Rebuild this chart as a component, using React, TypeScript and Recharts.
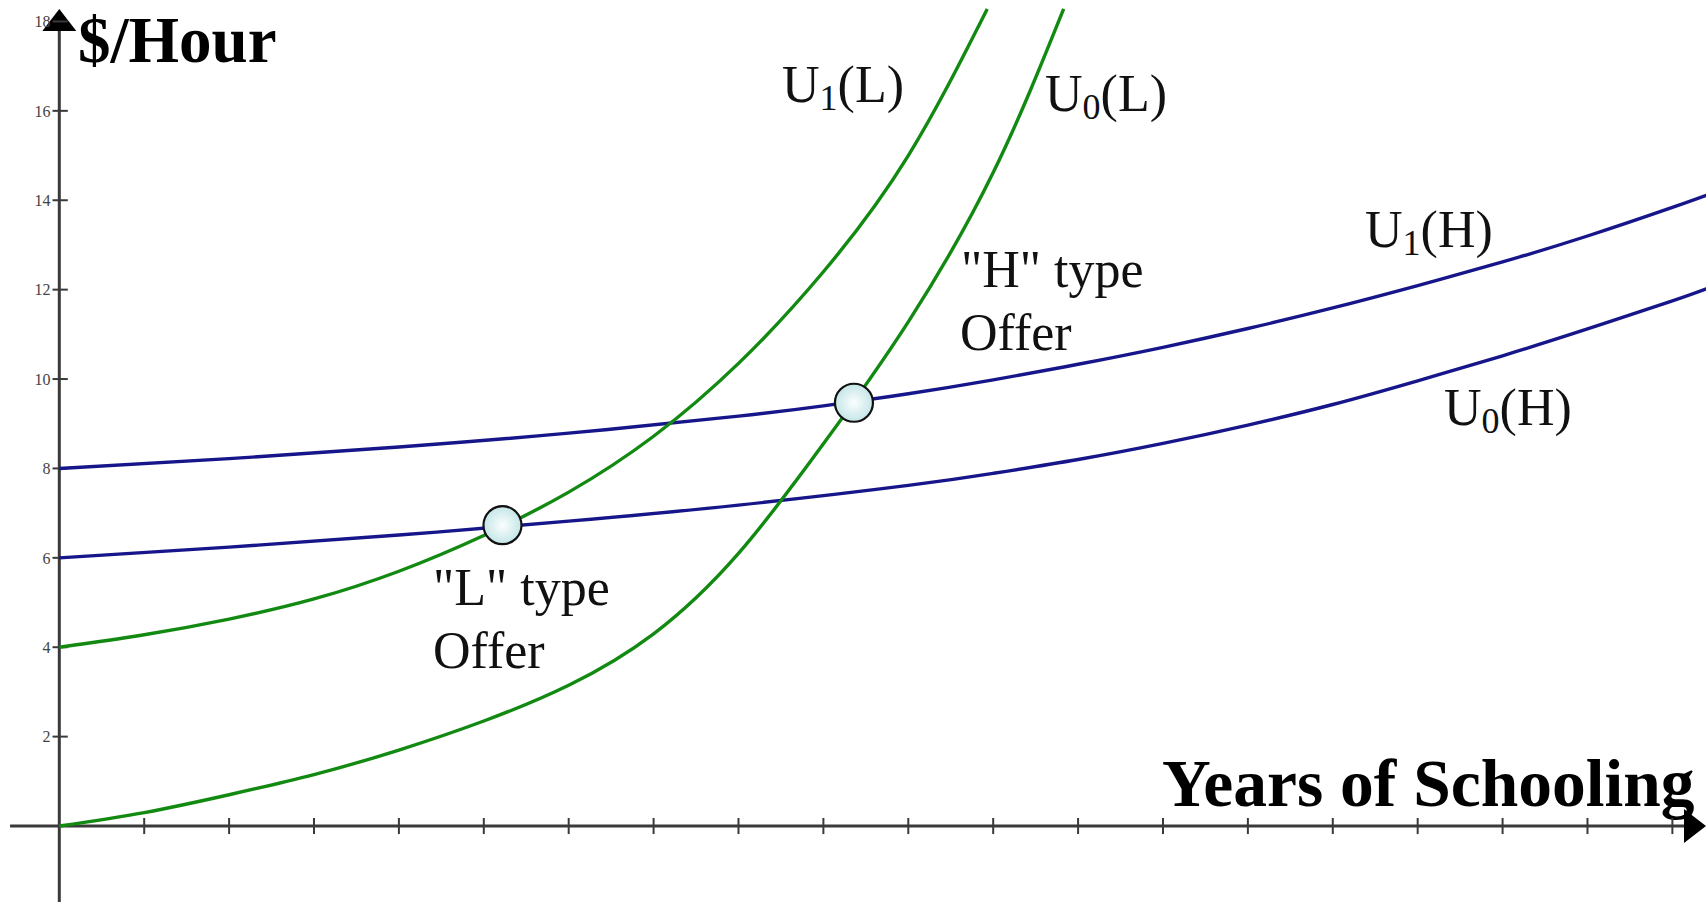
import React from "react";
import {
  ComposedChart,
  Line,
  Scatter,
  XAxis,
  YAxis,
  ReferenceLine,
} from "recharts";

// readings: [years of schooling, $/hour]
const U1_H: [number, number][] = [
  [0, 8], [2, 8.22], [4, 8.48], [6, 8.79], [8, 9.17], [9, 9.4], [10, 9.67],
  [11, 9.98], [12, 10.33], [13, 10.71], [14, 11.13], [15, 11.59], [16, 12.09],
  [17, 12.62], [18, 13.2], [19, 13.84], [19.4, 14.11],
];
const U0_H: [number, number][] = [
  [0, 6], [2, 6.24], [4, 6.51], [6, 6.82], [8, 7.18], [10, 7.62], [11, 7.89],
  [12, 8.2], [13, 8.56], [14, 8.97], [15, 9.43], [16, 9.96], [17, 10.52],
  [18, 11.12], [19, 11.75], [19.4, 12.02],
];
const U1_L: [number, number][] = [
  [0, 4], [1, 4.28], [2, 4.63], [3, 5.08], [4, 5.7], [5, 6.5], [6, 7.47],
  [7, 8.72], [8, 10.35], [9, 12.4], [10, 15.0], [10.93, 18.28],
];
const U0_L: [number, number][] = [
  [0, 0], [1, 0.3], [2, 0.7], [3, 1.15], [4, 1.7], [5, 2.35], [6, 3.15],
  [7, 4.3], [8, 6.1], [9, 8.55], [10, 11.28], [11, 14.62], [11.83, 18.28],
];
// the two offers ("L" type, "H" type)
const OFFERS: [number, number][] = [
  [5.22, 6.73],
  [9.36, 9.47],
];

const X_TICKS = [1, 2, 3, 4, 5, 6, 7, 8, 9, 10, 11, 12, 13, 14, 15, 16, 17, 18, 19];
const Y_TICKS = [2, 4, 6, 8, 10, 12, 14, 16, 18];

const W = 1706;
const H = 902;
const X_DOMAIN: [number, number] = [-0.6985, 19.396];
const Y_DOMAIN: [number, number] = [-1.7, 18.48];

const GREEN = "#128a12";
const NAVY = "#16168a";
const AXIS = "#3a3a3a";
const SERIF = "'Liberation Serif', 'Times New Roman', serif";

const pts = (pairs: [number, number][]) => pairs.map(([x, y]) => ({ x, y }));

// axis line with a filled arrow head at its second end
const ArrowLine = (p: any) => {
  const { x1, y1, x2, y2 } = p;
  const dx = x2 - x1;
  const dy = y2 - y1;
  const len = Math.hypot(dx, dy) || 1;
  const ux = dx / len;
  const uy = dy / len;
  const headLen = 22;
  const half = 17;
  const bx = x2 - ux * headLen;
  const by = y2 - uy * headLen;
  const head = `${x2},${y2} ${bx - uy * half},${by + ux * half} ${bx + uy * half},${by - ux * half}`;
  return (
    <g>
      <line x1={x1} y1={y1} x2={bx} y2={by} stroke={AXIS} strokeWidth={3} />
      <polygon points={head} fill="#000" />
    </g>
  );
};

const OfferDot = (p: any) => (
  <circle
    cx={p.cx}
    cy={p.cy}
    r={19}
    fill="url(#offerFill)"
    stroke="#111"
    strokeWidth={2.2}
  />
);

const Sub = ({ x, y, n, tail }: { x: number; y: number; n: string; tail: string }) => (
  <text x={x} y={y} fontFamily={SERIF} fontSize={52} fill="#111">
    <tspan>U</tspan>
    <tspan fontSize={36} dy={8}>
      {n}
    </tspan>
    <tspan dy={-8}>{tail}</tspan>
  </text>
);

const lineProps = {
  dataKey: "y",
  type: "natural" as const,
  strokeWidth: 3.4,
  dot: false,
  activeDot: false,
  isAnimationActive: false,
};

export default function App() {
  return (
    <div style={{ width: W, height: H, position: "relative" }}>
      <style>{"body{margin:0}"}</style>
      <ComposedChart
        width={W}
        height={H}
        margin={{ top: 0, right: 0, bottom: 0, left: 0 }}
      >
        <defs>
          <radialGradient id="offerFill" cx="50%" cy="50%" r="55%">
            <stop offset="0%" stopColor="#fbfefe" />
            <stop offset="100%" stopColor="#bfe3e5" />
          </radialGradient>
        </defs>
        <XAxis
          type="number"
          dataKey="x"
          domain={X_DOMAIN}
          allowDataOverflow
          hide
        />
        <YAxis
          type="number"
          dataKey="y"
          domain={Y_DOMAIN}
          allowDataOverflow
          hide
        />

        {/* axes */}
        <ReferenceLine
          segment={[{ x: -0.58, y: 0 }, { x: X_DOMAIN[1], y: 0 }]}
          shape={ArrowLine}
        />
        <ReferenceLine
          segment={[{ x: 0, y: Y_DOMAIN[0] }, { x: 0, y: 18.28 }]}
          shape={ArrowLine}
        />
        {X_TICKS.map((t) => (
          <ReferenceLine
            key={`xt-${t}`}
            segment={[{ x: t, y: -0.18 }, { x: t, y: 0.18 }]}
            stroke={AXIS}
            strokeWidth={2}
          />
        ))}
        {Y_TICKS.map((t) => (
          <ReferenceLine
            key={`yt-${t}`}
            segment={[{ x: -0.08, y: t }, { x: 0.1, y: t }]}
            stroke={AXIS}
            strokeWidth={2}
            label={{
              value: String(t),
              position: "left",
              offset: 2,
              fill: "#444",
              fontSize: 16,
              fontFamily: SERIF,
            }}
          />
        ))}

        <Line {...lineProps} data={pts(U1_H)} stroke={NAVY} />
        <Line {...lineProps} data={pts(U0_H)} stroke={NAVY} />
        <Line {...lineProps} data={pts(U1_L)} stroke={GREEN} />
        <Line {...lineProps} data={pts(U0_L)} stroke={GREEN} />
        <Scatter data={pts(OFFERS)} dataKey="y" shape={OfferDot} isAnimationActive={false} />

        {/* axis titles */}
        <text x={78} y={62} fontFamily={SERIF} fontWeight="bold" fontSize={65} fill="#000">
          $/Hour
        </text>
        <text x={1162} y={806} fontFamily={SERIF} fontWeight="bold" fontSize={67.5} fill="#000">
          Years of Schooling
        </text>

        {/* curve labels */}
        <Sub x={782} y={102} n="1" tail="(L)" />
        <Sub x={1045} y={111} n="0" tail="(L)" />
        <Sub x={1365} y={247} n="1" tail="(H)" />
        <Sub x={1444} y={425} n="0" tail="(H)" />

        <text fontFamily={SERIF} fontSize={52} fill="#111">
          <tspan x={961} y={287}>"H" type</tspan>
          <tspan x={960} y={350}>Offer</tspan>
        </text>
        <text fontFamily={SERIF} fontSize={52} fill="#111">
          <tspan x={433} y={605}>"L" type</tspan>
          <tspan x={433} y={668}>Offer</tspan>
        </text>
      </ComposedChart>
    </div>
  );
}
